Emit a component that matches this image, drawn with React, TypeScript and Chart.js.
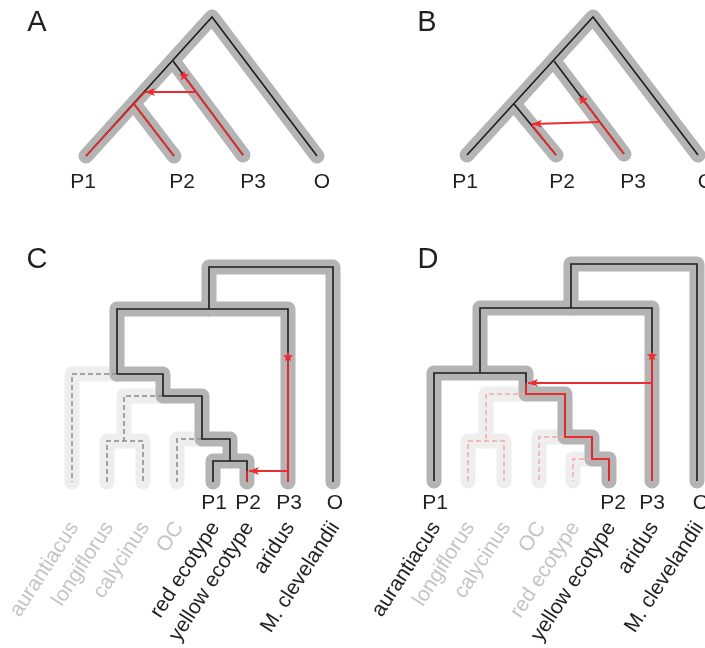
import React, { useEffect, useRef } from "react";
import { Chart, registerables } from "chart.js";

Chart.register(...registerables);

type Pt = [number, number];

const WIDTH = 705;
const HEIGHT = 648;

// ---------- Panel A ----------
const treeA: Pt[][] = [
  [[86, 156], [212, 17], [317, 156]],
  [[173, 61], [243, 155]],
  [[134, 104], [174, 156]],
];
const redA: Pt[][] = [
  [[145, 92], [134, 104], [86, 156]],
  [[134, 104], [174, 156]],
  [[184, 76], [243, 155]],
];
const arrowA: Pt[] = [[196, 92], [145, 92]];
const starA: Pt = [184, 76];

// ---------- Panel B ----------
const treeB: Pt[][] = [
  [[467, 155], [593, 17], [698, 155]],
  [[554, 61], [624, 154]],
  [[514, 104], [556, 155]],
];
const redB: Pt[][] = [
  [[532, 125], [556, 155]],
  [[583, 100], [624, 154]],
];
const arrowB: Pt[] = [[600, 122], [532, 124]];
const starB: Pt = [583, 100];

// ---------- Panel C ----------
const treeC: Pt[][] = [
  [[209, 309], [209, 267], [333, 267], [333, 482]],
  [[117, 374], [117, 309], [288, 309], [288, 482]],
  [[117, 374], [163, 374], [163, 396], [202, 396], [202, 439], [230, 439], [230, 461]],
  [[213, 482], [213, 461], [247, 461], [247, 482]],
];
const ghostC: Pt[][] = [
  [[117, 374], [72, 374], [72, 482]],
  [[163, 396], [124, 396], [124, 441]],
  [[107, 482], [107, 441], [143, 441], [143, 482]],
  [[202, 439], [177, 439], [177, 482]],
];
const redC: Pt[][] = [
  [[288, 357], [288, 482]],
  [[247, 471], [247, 482]],
];
const arrowC: Pt[] = [[288, 471], [249, 471]];
const starC: Pt = [288, 357];

// ---------- Panel D ----------
const treeD: Pt[][] = [
  [[571, 308], [571, 264], [697, 264], [697, 481]],
  [[480, 373], [480, 308], [652, 308], [652, 481]],
  [[434, 481], [434, 373], [526, 373], [526, 394], [565, 394], [565, 437], [592, 437], [592, 459], [609, 459], [609, 481]],
];
const ghostD: Pt[][] = [
  [[526, 394], [486, 394], [486, 441]],
  [[468, 481], [468, 441], [504, 441], [504, 481]],
  [[565, 437], [539, 437], [539, 481]],
  [[592, 459], [573, 459], [573, 481]],
];
const redD: Pt[][] = [
  [[526, 383], [526, 394], [565, 394], [565, 437], [592, 437], [592, 459], [609, 459], [609, 481]],
  [[652, 356], [652, 481]],
];
const arrowD: Pt[] = [[652, 383], [528, 383]];
const starD: Pt = [652, 356];

// ---------- Text ----------
const panelLetters = ["A", "B", "C", "D"];
const panelLetterPos: Pt[] = [[37, 23], [427, 23], [37, 260], [428, 260]];

const tipLabels = ["P1", "P2", "P3", "O"];
const tipLabelXA = [83, 182, 253, 322];
const tipLabelXB = [465, 562, 633, 706];
const tipLabelXC = [214, 248, 289, 335];
const tipLabelXD = [435, 613, 652, 701];
const tipLabelYTop = 182;
const tipLabelYBottom = 503;

const speciesNames = ["aurantiacus", "longiflorus", "calycinus", "OC", "red ecotype", "yellow ecotype", "aridus", "M. clevelandii"];
const speciesTipXC = [72, 107, 143, 177, 213, 247, 288, 333];
const speciesTipXD = [434, 468, 504, 539, 573, 609, 652, 697];
const speciesActiveC = [false, false, false, false, true, true, true, true];
const speciesActiveD = [true, false, false, false, false, true, true, true];

const COLORS = {
  haloDark: "#b4b4b4",
  haloLight: "#eeeeee",
  black: "#1c1c1c",
  red: "#ee2b2e",
  dashGray: "#8a8a8a",
  dashRed: "#f5a6a6",
  text: "#231f20",
  textLight: "#c4c4c4",
};

const FONT = '"Liberation Sans", Arial, Helvetica, sans-serif';

function mkSets(paths: Pt[][], style: any) {
  return paths.map((p) => ({
    data: p.map(([x, y]) => ({ x, y })),
    showLine: true,
    pointRadius: 0,
    pointHoverRadius: 0,
    tension: 0,
    fill: false,
    clip: false,
    ...style,
  }));
}

const haloDarkStyle = { borderColor: COLORS.haloDark, borderWidth: 15, borderCapStyle: "round", borderJoinStyle: "round", order: 8 };
const haloLightStyle = { borderColor: COLORS.haloLight, borderWidth: 15, borderCapStyle: "round", borderJoinStyle: "round", order: 9 };
const blackStyle = { borderColor: COLORS.black, borderWidth: 1.6, borderCapStyle: "butt", borderJoinStyle: "miter", order: 5 };
const dashGrayStyle = { borderColor: COLORS.dashGray, borderWidth: 1.5, borderDash: [5, 3], borderCapStyle: "butt", borderJoinStyle: "miter", order: 5 };
const dashRedStyle = { borderColor: COLORS.dashRed, borderWidth: 1.5, borderDash: [5, 3], borderCapStyle: "butt", borderJoinStyle: "miter", order: 5 };
const redStyle = { borderColor: COLORS.red, borderWidth: 1.8, borderCapStyle: "butt", borderJoinStyle: "miter", order: 2 };

const arrows: Pt[][] = [arrowA, arrowB, arrowC, arrowD];
const stars: Pt[] = [starA, starB, starC, starD];

const overlayPlugin = {
  id: "treeOverlay",
  afterDatasetsDraw(chart: any) {
    const ctx: CanvasRenderingContext2D = chart.ctx;
    const xs = chart.scales.x;
    const ys = chart.scales.y;
    const P = (p: Pt): Pt => [xs.getPixelForValue(p[0]), ys.getPixelForValue(p[1])];

    ctx.save();
    // arrowheads
    arrows.forEach(([from, to]) => {
      const a = P(from);
      const b = P(to);
      const ang = Math.atan2(b[1] - a[1], b[0] - a[0]);
      const len = 10;
      const half = 4;
      ctx.save();
      ctx.translate(b[0], b[1]);
      ctx.rotate(ang);
      ctx.fillStyle = COLORS.red;
      ctx.beginPath();
      ctx.moveTo(0, 0);
      ctx.lineTo(-len, -half);
      ctx.lineTo(-len * 0.75, 0);
      ctx.lineTo(-len, half);
      ctx.closePath();
      ctx.fill();
      ctx.restore();
    });
    // stars
    stars.forEach((s) => {
      const c = P(s);
      const ro = 5.4;
      const ri = 2.3;
      ctx.fillStyle = COLORS.red;
      ctx.beginPath();
      for (let i = 0; i < 10; i++) {
        const r = i % 2 === 0 ? ro : ri;
        const a = -Math.PI / 2 + (i * Math.PI) / 5;
        const x = c[0] + r * Math.cos(a);
        const y = c[1] + r * Math.sin(a);
        if (i === 0) ctx.moveTo(x, y);
        else ctx.lineTo(x, y);
      }
      ctx.closePath();
      ctx.fill();
    });

    // panel letters
    ctx.fillStyle = COLORS.text;
    ctx.font = `29px ${FONT}`;
    ctx.textAlign = "center";
    ctx.textBaseline = "middle";
    panelLetters.forEach((t, i) => {
      const p = P(panelLetterPos[i]);
      ctx.fillText(t, p[0], p[1]);
    });

    // tip labels
    ctx.font = `21px ${FONT}`;
    const tipRows: [number[], number][] = [
      [tipLabelXA, tipLabelYTop],
      [tipLabelXB, tipLabelYTop],
      [tipLabelXC, tipLabelYBottom],
      [tipLabelXD, tipLabelYBottom],
    ];
    tipRows.forEach(([xsArr, y]) => {
      xsArr.forEach((x, i) => {
        const p = P([x, y]);
        ctx.fillText(tipLabels[i], p[0], p[1]);
      });
    });

    // rotated species labels
    ctx.font = `21px ${FONT}`;
    ctx.textAlign = "right";
    ctx.textBaseline = "alphabetic";
    const rows: [number[], boolean[]][] = [
      [speciesTipXC, speciesActiveC],
      [speciesTipXD, speciesActiveD],
    ];
    rows.forEach(([tips, active]) => {
      tips.forEach((x, i) => {
        const p = P([x + 7, 527]);
        ctx.save();
        ctx.translate(p[0], p[1]);
        ctx.rotate((-57 * Math.PI) / 180);
        ctx.fillStyle = active[i] ? COLORS.text : COLORS.textLight;
        ctx.fillText(speciesNames[i], 0, 0);
        ctx.restore();
      });
    });
    ctx.restore();
  },
};

export default function App() {
  const ref = useRef<HTMLCanvasElement | null>(null);

  useEffect(() => {
    if (!ref.current) return;
    const datasets: any[] = [
      ...mkSets([...treeA, ...treeB, ...treeC, ...treeD], haloDarkStyle),
      ...mkSets([...ghostC, ...ghostD], haloLightStyle),
      ...mkSets([...treeA, ...treeB, ...treeC, ...treeD], blackStyle),
      ...mkSets(ghostC, dashGrayStyle),
      ...mkSets(ghostD, dashRedStyle),
      ...mkSets([...redA, ...redB, ...redC, ...redD, ...arrows], redStyle),
    ];
    const chart = new Chart(ref.current, {
      type: "scatter",
      data: { datasets },
      options: {
        animation: false,
        responsive: false,
        maintainAspectRatio: false,
        events: [],
        layout: { padding: 0 },
        plugins: { legend: { display: false }, tooltip: { enabled: false } },
        scales: {
          x: { type: "linear", min: 0, max: WIDTH, display: false },
          y: { type: "linear", min: 0, max: HEIGHT, reverse: true, display: false },
        },
      },
      plugins: [overlayPlugin],
    } as any);
    return () => chart.destroy();
  }, []);

  return (
    <div style={{ position: "fixed", left: 0, top: 0, width: WIDTH, height: HEIGHT, background: "#ffffff" }}>
      <canvas ref={ref} width={WIDTH} height={HEIGHT} style={{ width: WIDTH, height: HEIGHT, display: "block" }} />
    </div>
  );
}
